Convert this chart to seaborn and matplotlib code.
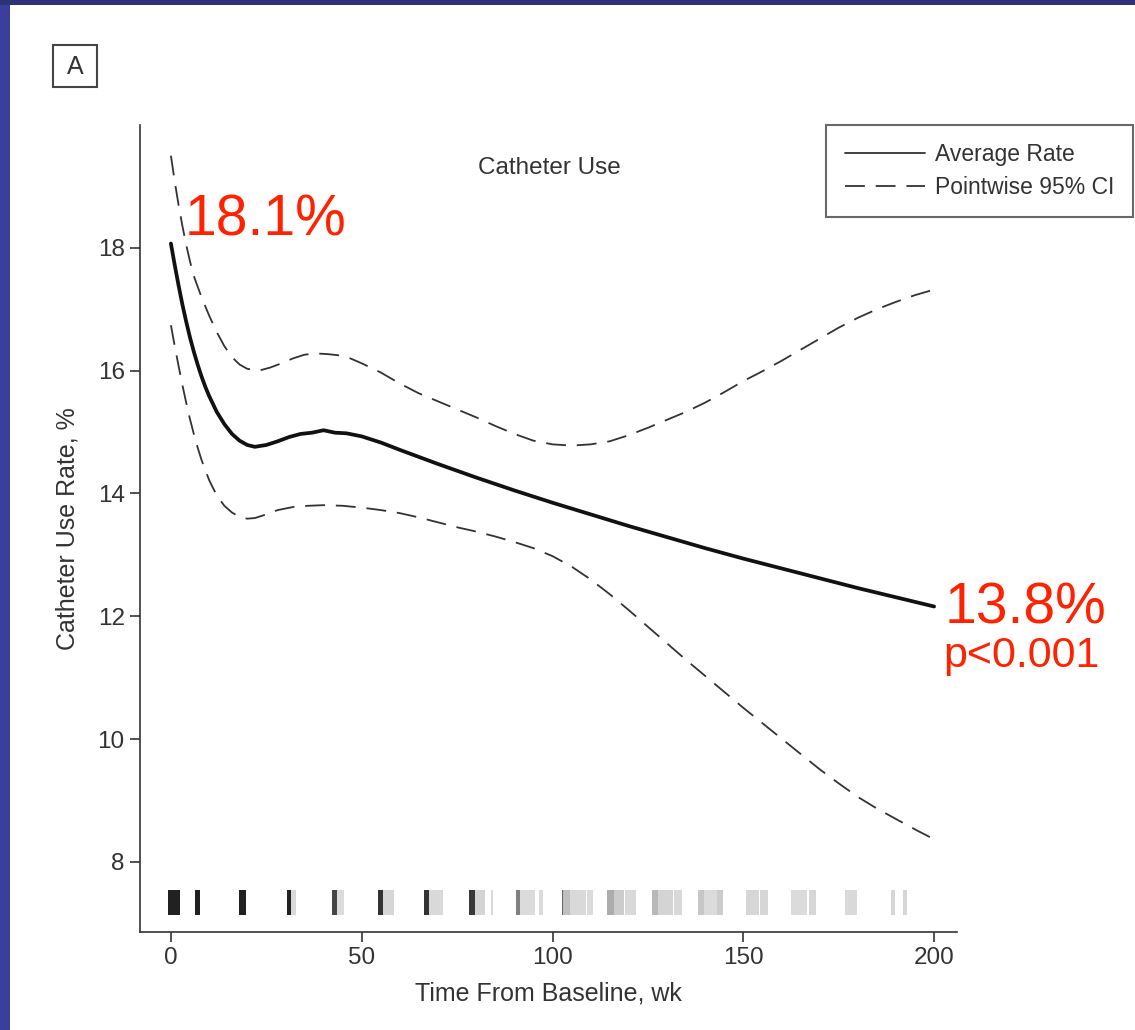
import numpy as np
import pandas as pd
import matplotlib
matplotlib.use("Agg")
import matplotlib.pyplot as plt
from matplotlib import font_manager
from matplotlib.patches import Rectangle
from matplotlib.lines import Line2D
import seaborn as sns

# ---------------- data ----------------
mean_t = [0, 1, 2, 3, 4, 5, 6, 7, 8, 9, 10, 12, 14, 16, 18, 20, 22, 25, 28, 31, 34, 37, 40, 43, 46, 50,
          55, 60, 70, 80, 90, 100, 110, 120, 130, 140, 150, 160, 170, 180, 190, 200]
mean_rate = [18.07, 17.72, 17.39, 17.08, 16.8, 16.54, 16.31, 16.1, 15.91, 15.74, 15.59, 15.33, 15.13,
             14.97, 14.86, 14.79, 14.76, 14.79, 14.85, 14.92, 14.97, 14.99, 15.03, 14.99, 14.98, 14.93,
             14.83, 14.71, 14.48, 14.26, 14.05, 13.85, 13.66, 13.47, 13.29, 13.11, 12.94, 12.78, 12.62,
             12.46, 12.31, 12.16]

upper_t = [0, 1, 2, 3, 4, 5, 6, 8, 10, 12, 14, 16, 18, 20, 23, 26, 29, 32, 35, 38, 41, 44, 47, 50,
           55, 60, 65, 70, 75, 80, 85, 90, 95, 100, 105, 110, 115, 120, 125, 130, 135, 140, 145,
           150, 155, 160, 165, 170, 175, 180, 185, 190, 195, 200]
upper_ci = [19.5, 19.08, 18.7, 18.36, 18.05, 17.78, 17.54, 17.2, 16.9, 16.63, 16.4, 16.22, 16.1, 16.03,
            16.0, 16.05, 16.12, 16.2, 16.26, 16.28, 16.27, 16.25, 16.2, 16.12,
            15.97, 15.79, 15.63, 15.5, 15.37, 15.24, 15.1, 14.97, 14.86, 14.8, 14.78, 14.8, 14.85,
            14.95, 15.07, 15.2, 15.33, 15.48, 15.65, 15.83, 15.99, 16.16, 16.34, 16.52, 16.7, 16.86,
            17.0, 17.12, 17.23, 17.32]

lower_t = [0, 1, 2, 3, 4, 5, 6, 7, 8, 10, 12, 14, 16, 18, 20, 22, 25, 28, 32, 36, 40, 45, 50, 55, 60,
           65, 70, 75, 80, 85, 90, 95, 100, 105, 110, 115, 120, 125, 130, 135, 140, 145, 150, 155,
           160, 165, 170, 175, 180, 185, 190, 195, 200]
lower_ci = [16.74, 16.4, 16.08, 15.77, 15.48, 15.21, 14.97, 14.75, 14.55, 14.22, 13.97, 13.8, 13.69,
            13.62, 13.59, 13.6, 13.66, 13.73, 13.78, 13.8, 13.81, 13.8, 13.77, 13.73, 13.68,
            13.61, 13.53, 13.45, 13.38, 13.3, 13.21, 13.11, 12.98, 12.81, 12.6, 12.36, 12.1, 11.83,
            11.56, 11.29, 11.03, 10.77, 10.51, 10.26, 10.01, 9.76, 9.51, 9.28, 9.06, 8.87, 8.7, 8.53, 8.37]

# observation-density rug: band start, band end (wk), gray level (0=black, 1=white)
rug_start = [-0.7, 6.2, 17.9, 30.3, 31.6, 42.1, 43.4, 54.3, 55.5, 66.3, 67.7, 78.2, 79.6, 83.8,
             90.4, 91.4, 96.5, 102.4, 102.8, 104.6, 109.1, 114.2, 116.0, 119.1, 126.1, 127.7,
             131.8, 138.0, 139.7, 143.0, 150.7, 154.4, 162.5, 167.1, 176.7, 188.8, 191.8]
rug_end = [2.4, 7.6, 19.8, 31.6, 32.7, 43.4, 45.4, 55.5, 58.5, 67.7, 71.2, 79.6, 82.3, 84.5,
           91.4, 95.4, 97.4, 102.8, 104.6, 108.8, 110.5, 116.0, 118.7, 121.9, 127.7, 131.7,
           133.9, 139.7, 143.0, 144.8, 154.0, 156.6, 166.6, 169.0, 179.9, 189.7, 192.8]
rug_gray = [0.13, 0.13, 0.13, 0.13, 0.85, 0.27, 0.86, 0.2, 0.84, 0.2, 0.85, 0.22, 0.83, 0.85,
            0.5, 0.86, 0.86, 0.4, 0.75, 0.85, 0.86, 0.68, 0.8, 0.85, 0.72, 0.83,
            0.85, 0.78, 0.86, 0.8, 0.84, 0.84, 0.86, 0.84, 0.85, 0.84, 0.84]

x_ticks = [0, 50, 100, 150, 200]
y_ticks = [8, 10, 12, 14, 16, 18]

# ---------------- style ----------------
sns.set_style("ticks")
avail = {f.name for f in font_manager.fontManager.ttflist}
main_font = "Liberation Sans" if "Liberation Sans" in avail else "DejaVu Sans"
plt.rcParams["font.family"] = [main_font, "DejaVu Sans"]

dark = "#333333"
dash = (0, (11, 6))
fig = plt.figure(figsize=(11.35, 10.3), dpi=100)
fig.patch.set_facecolor("white")
# slide frame
fig.patches.append(Rectangle((0, 0), 10 / 1135, 1, transform=fig.transFigure,
                             facecolor="#3b3f9c", edgecolor="none", zorder=0))
fig.patches.append(Rectangle((0, 1 - 5 / 1030), 1, 5 / 1030, transform=fig.transFigure,
                             facecolor="#2e3278", edgecolor="none", zorder=0))

ax = fig.add_axes([140 / 1135, 1 - 932 / 1030, (957 - 140) / 1135, (932 - 125) / 1030])

df_mean = pd.DataFrame({"t": mean_t, "v": mean_rate})
df_up = pd.DataFrame({"t": upper_t, "v": upper_ci})
df_lo = pd.DataFrame({"t": lower_t, "v": lower_ci})

sns.lineplot(data=df_mean, x="t", y="v", ax=ax, color="#111111", lw=2.7, estimator=None)
for d in (df_up, df_lo):
    sns.lineplot(data=d, x="t", y="v", ax=ax, color=dark, lw=1.3, estimator=None)
for ln in ax.lines[1:]:
    ln.set_linestyle(dash)

# rug bands
starts = np.array(rug_start)
widths = np.array(rug_end) - starts
ax.bar(starts, 0.41, width=widths, bottom=7.13, align="edge",
       color=[str(g) for g in rug_gray], edgecolor="none", zorder=1)

ax.set_xlim(-8.1, 206)
ax.set_ylim(6.86, 20.0)
ax.set_xticks(x_ticks)
ax.set_yticks(y_ticks)
ax.tick_params(axis="both", labelsize=17.5, colors=dark, length=7, width=1.2, pad=4)
for s in ("left", "bottom"):
    ax.spines[s].set_color(dark)
    ax.spines[s].set_linewidth(1.2)
sns.despine(ax=ax)

ax.set_xlabel("Time From Baseline, wk", fontsize=18, color=dark, labelpad=9)
ax.set_ylabel("Catheter Use Rate, %", fontsize=18, color=dark, labelpad=13)

fig.text(549 / 1135, 1 - 168 / 1030, "Catheter Use", fontsize=17.5, color=dark,
         ha="center", va="center")

# panel label
fig.patches.append(Rectangle((53 / 1135, 1 - 87 / 1030), 44 / 1135, 42 / 1030,
                             transform=fig.transFigure, facecolor="white",
                             edgecolor="#444444", lw=1.5, zorder=2))
fig.text(75 / 1135, 1 - 67 / 1030, "A", fontsize=18, color=dark, ha="center", va="center",
         zorder=3)

# legend
handles = [Line2D([], [], color=dark, lw=1.3),
           Line2D([], [], color=dark, lw=1.3, linestyle=dash)]
leg = ax.legend(handles, ["Average Rate", "Pointwise 95% CI"], loc="upper right",
                bbox_to_anchor=(1133 / 1135, 1 - 125 / 1030), bbox_transform=fig.transFigure,
                fontsize=16.5, frameon=True, fancybox=False, handlelength=3.5,
                handletextpad=0.45, borderpad=0.8, labelspacing=0.42, borderaxespad=0)
leg.get_frame().set_edgecolor("#444444")
leg.get_frame().set_linewidth(1.5)
for t in leg.get_texts():
    t.set_color(dark)

# red annotations
red = "#ff2200"
fig.text(185 / 1135, 1 - 236 / 1030, "18.1%", fontsize=41, color=red,
         family=["Liberation Sans", "DejaVu Sans"], ha="left", va="baseline")
fig.text(945 / 1135, 1 - 624 / 1030, "13.8%", fontsize=41, color=red,
         family=["Liberation Sans", "DejaVu Sans"], ha="left", va="baseline")
fig.text(943 / 1135, 1 - 667 / 1030, "p<0.001", fontsize=31, color=red,
         family=["Liberation Sans", "DejaVu Sans"], ha="left", va="baseline")

fig.savefig("out.png", dpi=100)
